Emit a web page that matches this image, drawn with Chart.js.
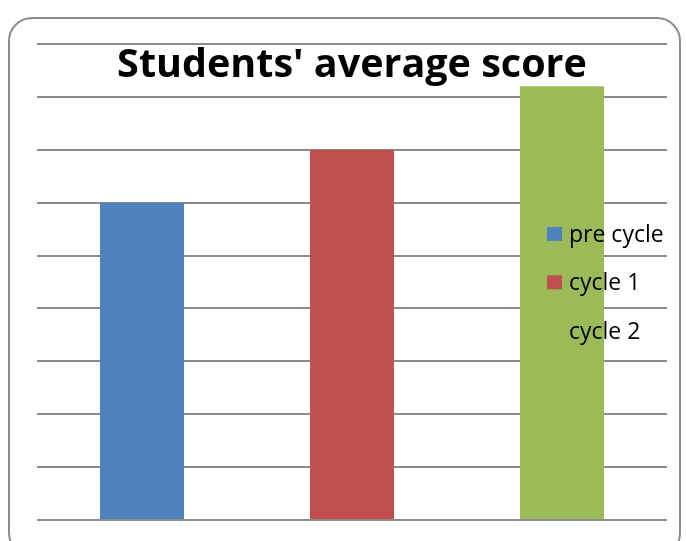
<!DOCTYPE html>
<html>
<head>
<meta charset="utf-8">
<script src="https://cdn.jsdelivr.net/npm/chart.js@4"></script>
<style>
  body { margin: 0; background: #fff; }
  #wrap { position: relative; width: 686px; height: 541px; overflow: hidden; }
  #frame { position: absolute; left: 8px; top: 17px; width: 673px; height: 540px;
           border: 2px solid #8c8c8c; border-radius: 24px; box-sizing: border-box; }
  #chart { position: absolute; left: 0; top: 0; }
</style>
</head>
<body>
<div id="wrap">
  <div id="frame"></div>
  <canvas id="chart" width="686" height="541"></canvas>
</div>
<script>
  const chartTitle = "Students' average score";
  const categories = [''];
  const seriesNames = ['pre cycle', 'cycle 1', 'cycle 2'];
  const seriesValues = [60, 70, 82];
  const seriesColors = ['#4F81BD', '#C0504D', '#9BBB59'];

  // title and legend sit inside the plot area, like the original
  const overlayPlugin = {
    id: 'overlay',
    afterDatasetsDraw(chart) {
      const ctx = chart.ctx;
      const area = chart.chartArea;
      ctx.save();
      ctx.fillStyle = '#000';
      ctx.textAlign = 'center';
      ctx.textBaseline = 'alphabetic';
      ctx.font = 'bold 39.5px "Open Sans"';
      ctx.fillText(chartTitle, (area.left + area.right) / 2, 77);

      ctx.textAlign = 'left';
      ctx.font = '23px "Open Sans"';
      chart.data.datasets.forEach((ds, i) => {
        const base = 242 + i * 48.3;
        ctx.fillStyle = ds.backgroundColor;
        ctx.fillRect(547, base - 15, 15, 14);
        ctx.fillStyle = '#000';
        ctx.fillText(ds.label, 569, base);
      });
      ctx.restore();
    }
  };

  const ctx = document.getElementById('chart').getContext('2d');
  window.scoreChart = new Chart(ctx, {
    type: 'bar',
    data: {
      labels: categories,
      datasets: seriesNames.map((name, i) => ({
        label: name,
        data: [seriesValues[i]],
        backgroundColor: seriesColors[i],
        categoryPercentage: 1,
        barPercentage: 0.4
      }))
    },
    options: {
      responsive: false,
      animation: false,
      layout: { padding: { left: 37, right: 19, top: 44, bottom: 21 } },
      plugins: {
        legend: { display: false },
        title: { display: false },
        tooltip: { enabled: false }
      },
      scales: {
        x: { display: false },
        y: {
          min: 0,
          max: 90,
          ticks: { display: false, stepSize: 10 },
          grid: { color: '#8c8c8c', lineWidth: 2, drawTicks: false },
          border: { display: false }
        }
      }
    },
    plugins: [overlayPlugin]
  });
</script>
</body>
</html>
